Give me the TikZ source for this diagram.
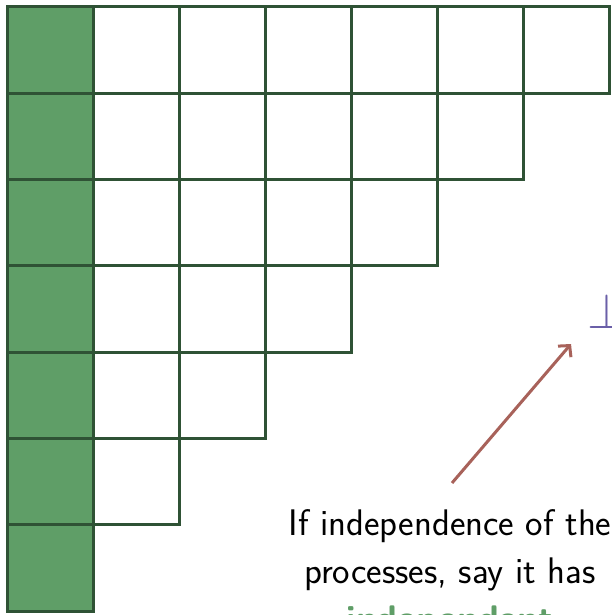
\RequirePackage{fix-cm}
\documentclass[tikz,border=0pt]{standalone}
\usetikzlibrary{arrows.meta}
\definecolor{cellgreen}{HTML}{5F9E67}
\definecolor{gridline}{HTML}{2F5235}
\definecolor{arrowred}{HTML}{A8625A}
\definecolor{perpblue}{HTML}{6A5FA8}
\begin{document}
\begin{tikzpicture}[x=1pt,y=-1pt,
  cell/.style={draw=gridline,line width=3pt,minimum width=86.14pt,minimum height=86.29pt,inner sep=0pt,outer sep=0pt,anchor=north west},
  greencell/.style={cell,fill=cellgreen},
  txt/.style={font=\sffamily\fontsize{37}{44}\selectfont,inner sep=0pt,anchor=base},
  arr/.style={draw=arrowred,line width=3pt,-{Straight Barb[length=8pt,width=17pt]}}]
\useasboundingbox[fill=white] (0,0) rectangle (611,615);
\foreach \r in {0,...,6}{
  \pgfmathtruncatemacro{\last}{6-\r}
  \foreach \c in {0,...,\last}{
    \ifnum\c=0
      \node[greencell] (c-\r-\c) at ({7+86.14*\c},{7+86.29*\r}) {};
    \else
      \node[cell] (c-\r-\c) at ({7+86.14*\c},{7+86.29*\r}) {};
    \fi
  }
}
\node[inner sep=0pt,anchor=base,text=perpblue,font=\fontsize{50}{50}\selectfont] (perp) at (607,328) {$\perp$};
\coordinate (as) at (452,483);
\coordinate (ae) at (571,344);
\draw[arr] (as) -- (ae);
\node[txt] (t1) at (450,535) {If independence of the};
\node[txt] (t2) at (450,583) {processes, say it has};
\node[txt,text=cellgreen,font=\sffamily\bfseries\fontsize{37}{44}\selectfont] (t3) at (450,631) {independent};
\end{tikzpicture}
\end{document}
